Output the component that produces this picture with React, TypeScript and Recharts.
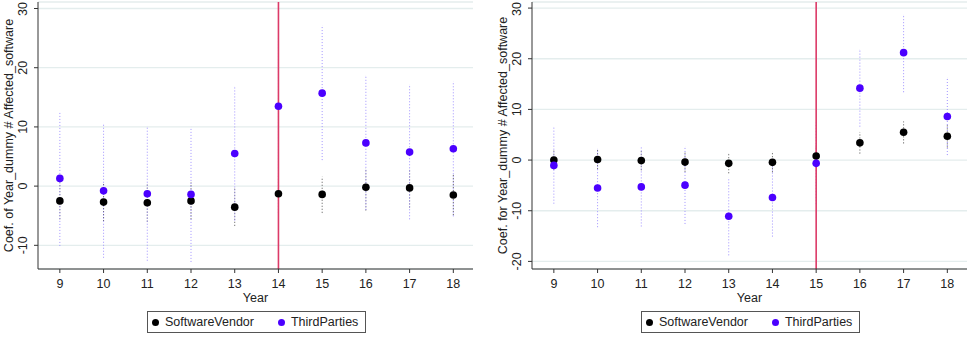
import {
  ScatterChart,
  Scatter,
  XAxis,
  YAxis,
  CartesianGrid,
  ReferenceLine,
  ErrorBar,
  Legend,
} from 'recharts';

const years = [9, 10, 11, 12, 13, 14, 15, 16, 17, 18];

// left panel: Coef. of Year_dummy # Affected_software
const vendorLeft = [-2.5, -2.7, -2.8, -2.5, -3.55, -1.3, -1.4, -0.2, -0.3, -1.5];
const vendorLeftLo = [-5.6, -5.9, -6.0, -5.6, -6.7, -4.5, -4.5, -4.1, -3.6, -4.9];
const vendorLeftHi = [0.6, 0.5, 0.4, 0.6, -0.4, 1.9, 1.6, 3.0, 2.9, 1.9];
const thirdLeft = [1.3, -0.8, -1.3, -1.4, 5.5, 13.5, 15.7, 7.3, 5.75, 6.3];
const thirdLeftLo = [-10.1, -12.1, -12.6, -12.8, -5.8, 2.0, 4.4, -4.0, -5.6, -5.1];
const thirdLeftHi = [12.7, 10.6, 10.1, 10.0, 16.8, 25.0, 27.1, 18.6, 17.1, 17.7];

// right panel: Coef. for Year_dummy # Affected_software
const vendorRight = [0, 0.1, -0.1, -0.4, -0.65, -0.45, 0.8, 3.4, 5.5, 4.7];
const vendorRightLo = [-1.9, -1.8, -2.0, -2.3, -2.6, -2.4, -1.3, 1.3, 3.3, 2.5];
const vendorRightHi = [1.9, 2.0, 1.9, 1.6, 1.3, 1.6, 2.9, 5.5, 7.6, 6.9];
const thirdRight = [-1.05, -5.5, -5.3, -4.95, -11.1, -7.4, -0.65, 14.2, 21.2, 8.6];
const thirdRightLo = [-8.6, -13.25, -13.1, -12.6, -18.8, -15.1, -8.7, 6.6, 13.4, 1.0];
const thirdRightHi = [6.5, 2.2, 2.5, 2.7, -3.4, 0.3, 7.4, 21.8, 28.6, 16.2];

const leftTicks = [-10, 0, 10, 20, 30];
const rightTicks = [-20, -10, 0, 10, 20, 30];

const VENDOR = '#000000';
const THIRD = '#4b00ff';
const FONT = '"Liberation Sans", Arial, Helvetica, sans-serif';

function buildRows(v: number[], vLo: number[], vHi: number[], t: number[], tLo: number[], tHi: number[]) {
  return years.map((year, i) => ({
    year,
    vendor: v[i],
    vendorErr: [v[i] - vLo[i], vHi[i] - v[i]],
    third: t[i],
    thirdErr: [t[i] - tLo[i], tHi[i] - t[i]],
  }));
}

const YTick = (props: any) => {
  const { x, y, payload } = props;
  return (
    <text
      x={x}
      y={y}
      transform={`rotate(-90 ${x} ${y})`}
      textAnchor="middle"
      fontSize={12.5}
      fontFamily={FONT}
      fill="#222"
    >
      {payload.value}
    </text>
  );
};

const Dot = (color: string) => (p: any) => <circle cx={p.cx} cy={p.cy} r={3.8} fill={color} />;

const LegendBox = () => (
  <div
    style={{
      boxSizing: 'border-box',
      width: 219,
      height: 22,
      border: '1px solid #555',
      display: 'flex',
      alignItems: 'center',
      fontFamily: FONT,
      fontSize: 12.5,
      color: '#222',
      background: '#fff',
    }}
  >
    <span style={{ width: 7, height: 7, borderRadius: 4, background: VENDOR, marginLeft: 4 }} />
    <span style={{ marginLeft: 6 }}>SoftwareVendor</span>
    <span style={{ width: 7, height: 7, borderRadius: 4, background: THIRD, marginLeft: 24 }} />
    <span style={{ marginLeft: 6 }}>ThirdParties</span>
  </div>
);

interface PanelProps {
  rows: ReturnType<typeof buildRows>;
  width: number;
  yWidth: number;
  rightMargin: number;
  domain: [number, number];
  ticks: number[];
  event: number;
  yLabel: string;
  legendLeft: number;
}

function Panel({ rows, width, yWidth, rightMargin, domain, ticks, event, yLabel, legendLeft }: PanelProps) {
  return (
    <ScatterChart width={width} height={338} margin={{ top: 2, right: rightMargin, bottom: 29, left: 0 }}>
      <CartesianGrid vertical={false} stroke="#e4eded" strokeWidth={1.3} />
      <XAxis
        type="number"
        dataKey="year"
        domain={[8.5, 18.45]}
        ticks={years}
        allowDataOverflow
        height={40}
        tickSize={4}
        tickMargin={6}
        stroke="#333"
        tick={{ fontSize: 12.5, fontFamily: FONT, fill: '#222' }}
        label={{
          content: (lp: any) => {
            const vb = lp.viewBox;
            return (
              <text x={vb.x + vb.width / 2} y={vb.y + 33} textAnchor="middle" fontSize={12.5} fontFamily={FONT} fill="#222">
                Year
              </text>
            );
          },
        }}
      />
      <YAxis
        type="number"
        domain={domain}
        ticks={ticks}
        allowDataOverflow
        width={yWidth}
        tickSize={4}
        tickMargin={7}
        stroke="#333"
        tick={<YTick />}
        label={{
          content: (lp: any) => {
            const vb = lp.viewBox;
            const x = vb.x + vb.width - 25;
            const y = vb.y + vb.height / 2;
            return (
              <text x={x} y={y} transform={`rotate(-90 ${x} ${y})`} textAnchor="middle" fontSize={12.5} fontFamily={FONT} fill="#222">
                {yLabel}
              </text>
            );
          },
        }}
      />
      <Scatter name="SoftwareVendor" data={rows} dataKey="vendor" fill={VENDOR} shape={Dot(VENDOR)} isAnimationActive={false}>
        <ErrorBar dataKey="vendorErr" direction="y" width={0} stroke="#555" strokeWidth={1} strokeDasharray="1 2" />
      </Scatter>
      <Scatter name="ThirdParties" data={rows} dataKey="third" fill={THIRD} shape={Dot(THIRD)} isAnimationActive={false}>
        <ErrorBar dataKey="thirdErr" direction="y" width={0} stroke="#a193ff" strokeWidth={1} strokeDasharray="1 2" />
      </Scatter>
      <ReferenceLine x={event} stroke="#dc3a68" strokeWidth={1.6} />
      <Legend
        layout="horizontal"
        verticalAlign="middle"
        content={() => <LegendBox />}
        wrapperStyle={{ left: legendLeft, top: 311, width: 219, height: 22 }}
      />
    </ScatterChart>
  );
}

export default function App() {
  const leftRows = buildRows(vendorLeft, vendorLeftLo, vendorLeftHi, thirdLeft, thirdLeftLo, thirdLeftHi);
  const rightRows = buildRows(vendorRight, vendorRightLo, vendorRightHi, thirdRight, thirdRightLo, thirdRightHi);
  return (
    <div style={{ position: 'absolute', left: 0, top: 0, width: 969, height: 338, background: '#fff' }}>
      <div style={{ position: 'absolute', left: 0, top: 0 }}>
        <Panel
          rows={leftRows}
          width={485}
          yWidth={38}
          rightMargin={12}
          domain={[-14, 31.1]}
          ticks={leftTicks}
          event={14}
          yLabel="Coef. of Year_dummy # Affected_software"
          legendLeft={147}
        />
      </div>
      <div style={{ position: 'absolute', left: 485, top: 0 }}>
        <Panel
          rows={rightRows}
          width={484}
          yWidth={47}
          rightMargin={2}
          domain={[-21.5, 31.2]}
          ticks={rightTicks}
          event={15}
          yLabel="Coef. for Year_dummy # Affected_software"
          legendLeft={156}
        />
      </div>
    </div>
  );
}
